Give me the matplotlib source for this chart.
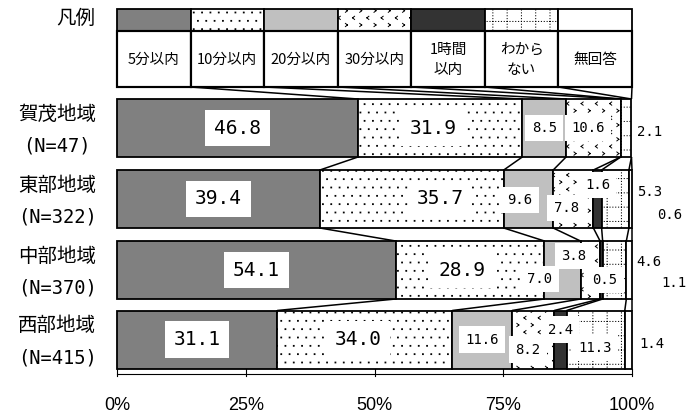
import numpy as np
import matplotlib
matplotlib.use('Agg')
import matplotlib.pyplot as plt
from matplotlib import hatch as mhatch
from matplotlib.path import Path

# ---------------- data ----------------
categories = ['5分以内', '10分以内', '20分以内', '30分以内', '1時間\n以内', 'わから\nない', '無回答']
regions = ['賀茂地域', '東部地域', '中部地域', '西部地域']
counts = ['(N=47)', '(N=322)', '(N=370)', '(N=415)']
kamo = [46.8, 31.9, 8.5, 10.6, 0.0, 2.1, 0.0]
tobu = [39.4, 35.7, 9.6, 7.8, 1.6, 5.3, 0.6]
chubu = [54.1, 28.9, 7.0, 3.8, 0.5, 4.6, 1.1]
seibu = [31.1, 34.0, 11.6, 8.2, 2.4, 11.3, 1.4]
xticks = [0, 25, 50, 75, 100]
xticklabels = ['0%', '25%', '50%', '75%', '100%']
legend_title = '凡例'


# ---------------- custom hatch patterns ----------------
def _segments_to(vertices, codes, pts):
    vertices[:] = np.array(pts)
    codes[:] = [Path.MOVETO, Path.LINETO] * (len(pts) // 2)


class Chevrons(mhatch.HatchPatternBase):
    def __init__(self, hatch, density):
        self.n = 7 if '*' in hatch else 0
        self.num_vertices = self.n * 2 * self.n * 4

    def set_vertices_and_codes(self, vertices, codes):
        n = self.n
        w, h = 0.010, 0.016
        pts = []
        for r in range(2 * n):
            y = (r + 0.5) / (2 * n)
            for c in range(n):
                if r % 2 == 0:
                    x = (c + 0.25) / n
                    tip, tail = x + w, x - w
                else:
                    x = (c + 0.75) / n
                    tip, tail = x - w, x + w
                pts += [(tail, y + h), (tip, y), (tip, y), (tail, y - h)]
        _segments_to(vertices, codes, pts)


class DottedGrid(mhatch.HatchPatternBase):
    def __init__(self, hatch, density):
        self.n = 7 if 'o' in hatch else 0
        self.m = 35
        self.num_vertices = self.n * self.m * 4

    def set_vertices_and_codes(self, vertices, codes):
        pts = []
        d = 0.001
        for i in range(self.n):
            p = (i + 0.5) / self.n
            for j in range(self.m):
                q = (j + 0.5) / self.m
                pts += [(q - d, p), (q + d, p), (p, q - d), (p, q + d)]
        _segments_to(vertices, codes, pts)


class SquareDots(mhatch.HatchPatternBase):
    def __init__(self, hatch, density):
        self.n = 12 if '.' in hatch else 0
        self.num_vertices = self.n * self.n * 5

    def set_vertices_and_codes(self, vertices, codes):
        pts = []
        cds = []
        d = 0.004
        for i in range(self.n):
            y = (i + 0.5) / self.n
            for j in range(self.n):
                x = (j + 0.25 + 0.5 * (i % 2)) / self.n
                pts += [(x - d, y - d), (x + d, y - d), (x + d, y + d), (x - d, y + d), (x - d, y - d)]
                cds += [Path.MOVETO, Path.LINETO, Path.LINETO, Path.LINETO, Path.CLOSEPOLY]
        vertices[:] = np.array(pts)
        codes[:] = cds


mhatch._hatch_types[:] = [t for t in mhatch._hatch_types
                          if t not in (mhatch.SmallCircles, mhatch.Stars,
                                       mhatch.SmallFilledCircles)] + [Chevrons, DottedGrid, SquareDots]

plt.rcParams['hatch.linewidth'] = 0.7

# ---------------- styles ----------------
face = ['#808080', 'white', '#c0c0c0', 'white', '#333333', 'white', 'white']
hatches = [None, '.', None, '*', None, 'o', None]
JP = ['Noto Sans CJK JP', 'DejaVu Sans']
MONO = ['DejaVu Sans Mono']
NARROW = ['Liberation Sans Narrow', 'Liberation Sans']

W, H = 698, 418
PX0, PX100 = 117, 632
scale = (PX100 - PX0) / 100.0


def pct(px):
    return (px - PX0) / scale


fig = plt.figure(figsize=(W / 100, H / 100), dpi=100)
ax = fig.add_axes([0, 0, 1, 1])
ax.set_xlim(pct(0), pct(W))
ax.set_ylim(H, 0)
ax.axis('off')

rows = [kamo, tobu, chubu, seibu]
row_y = [128, 199, 270, 339.5]
bar_h = 58
lw = 1.3

# ---------------- legend row ----------------
n = len(categories)
leg_w = np.full(n, 100.0 / n)
leg_left = np.concatenate([[0], np.cumsum(leg_w)[:-1]])
sw_top, sw_bot, box_bot = 9, 31, 87
for i in range(n):
    ax.barh((sw_top + sw_bot) / 2, leg_w[i], left=leg_left[i], height=sw_bot - sw_top,
            color=face[i], hatch=hatches[i], edgecolor='black', linewidth=lw, zorder=2)
    ax.barh((sw_bot + box_bot) / 2, leg_w[i], left=leg_left[i], height=box_bot - sw_bot,
            color='white', edgecolor='black', linewidth=lw * 1.2, zorder=2)
    ax.text(leg_left[i] + leg_w[i] / 2, (sw_bot + box_bot) / 2 + 1, categories[i],
            ha='center', va='center', fontsize=10.5, family=JP, linespacing=1.55, zorder=5)
ax.text(pct(76), 18.5, legend_title, ha='center', va='center', fontsize=14, family=JP)

# ---------------- bars ----------------
for r, vals in enumerate(rows):
    left = np.concatenate([[0], np.cumsum(vals)[:-1]])
    for i, v in enumerate(vals):
        if v <= 0:
            continue
        ax.barh(row_y[r], v, left=left[i], height=bar_h, color=face[i], hatch=hatches[i],
                edgecolor='black', linewidth=lw, zorder=2)
    ax.text(pct(57), row_y[r] - 14, regions[r], ha='center', va='center', fontsize=14, family=JP)
    ax.text(pct(57), row_y[r] + 18, counts[r], ha='center', va='center', fontsize=13.5, family=MONO)

# ---------------- series lines ----------------
prev_cum = np.cumsum(leg_w)
prev_bot = box_bot
for r, vals in enumerate(rows):
    cum = np.cumsum(vals)
    top = row_y[r] - bar_h / 2
    for a, b in zip(prev_cum, cum):
        ax.plot([a, b], [prev_bot, top], color='black', lw=1.1, zorder=1.5,
                solid_capstyle='butt')
    prev_cum = cum
    prev_bot = row_y[r] + bar_h / 2

# ---------------- data labels ----------------
inside_adj = {
    (0, 1): (-1.3, 0), (0, 3): (-1.0, 0),
    (1, 1): (5.5, 0), (1, 2): (-1.7, 1), (1, 3): (-1.4, 9), (1, 4): (0.0, -14),
    (2, 1): (-1.5, 0), (2, 2): (-4.4, 9), (2, 3): (-3.2, -14), (2, 4): (0.7, 10),
    (3, 1): (-1.3, 0), (3, 3): (-1.0, 10), (3, 4): (0.0, -10), (3, 5): (-0.2, 8),
}
outside_pos = {
    (0, 5): (101.0, 4),
    (1, 5): (101.0, -7), (1, 6): (104.9, 16),
    (2, 5): (100.8, -8), (2, 6): (105.6, 13),
    (3, 6): (101.4, 4),
}
for r, vals in enumerate(rows):
    left = np.concatenate([[0], np.cumsum(vals)[:-1]])
    for i, v in enumerate(vals):
        if v <= 0:
            continue
        s = f'{v:.1f}'
        if (r, i) in outside_pos:
            x, dy = outside_pos[(r, i)]
            ax.text(x, row_y[r] + dy, s, ha='left', va='center', fontsize=10, family=MONO, zorder=6)
            continue
        dx, dy = inside_adj.get((r, i), (0, 0))
        big = i < 2
        ax.text(left[i] + v / 2 + dx, row_y[r] + dy, s, ha='center', va='center',
                fontsize=14 if big else 10, family=MONO, zorder=6,
                bbox=dict(boxstyle='square,pad=0.45', facecolor='white', edgecolor='none'))

# ---------------- axis ----------------
axis_y = 374
ax.plot([0, 100], [axis_y, axis_y], color='black', lw=0.8, zorder=2)
for t, lab in zip(xticks, xticklabels):
    ax.plot([t, t], [row_y[-1] + bar_h / 2, axis_y + 2], color='black', lw=0.8, zorder=2)
    ax.text(t, 405, lab, ha='center', va='center', fontsize=13, family=NARROW)

fig.savefig('out.png', dpi=100)
